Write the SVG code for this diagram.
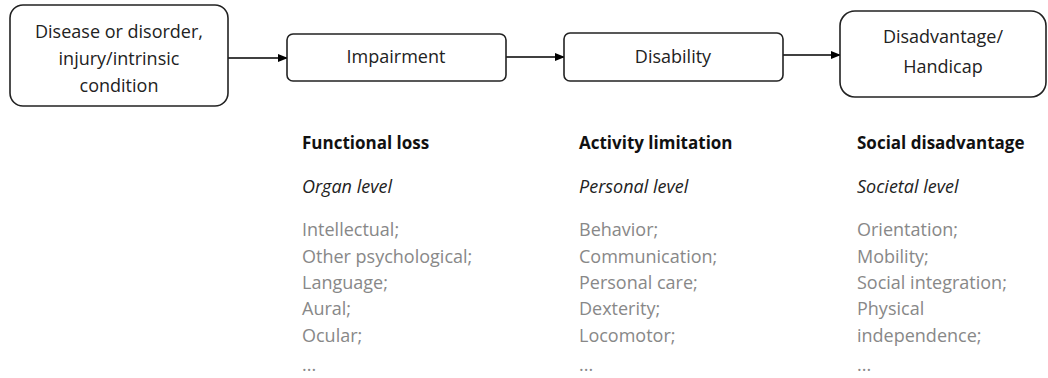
<svg xmlns="http://www.w3.org/2000/svg" width="1048" height="378" viewBox="0 0 1048 378">
<defs>
<marker id="ah" markerWidth="10" markerHeight="8" refX="9" refY="4" orient="auto" markerUnits="userSpaceOnUse">
<path d="M0,0 L10,4 L0,8 Z" fill="#000"/>
</marker>
<style>
.box{fill:#fff;stroke:#222;stroke-width:1.6}
.lbl{font-family:"Open Sans","DejaVu Sans",sans-serif;font-size:18px;fill:#222;text-anchor:middle}
.hd{font-family:"Open Sans","DejaVu Sans",sans-serif;font-size:17px;font-weight:bold;fill:#111}
.lv{font-family:"Open Sans","DejaVu Sans",sans-serif;font-size:18px;font-style:italic;fill:#222}
.it{font-family:"Open Sans","DejaVu Sans",sans-serif;font-size:18px;fill:#888}
.con{stroke:#000;stroke-width:1.4;fill:none}
</style>
</defs>
<rect width="1048" height="378" fill="#fff"/>
<g id="connectors">
<line class="con" x1="228" y1="58" x2="287" y2="58" marker-end="url(#ah)"/>
<line class="con" x1="506" y1="57" x2="564" y2="57" marker-end="url(#ah)"/>
<line class="con" x1="783" y1="55" x2="840" y2="55" marker-end="url(#ah)"/>
</g>
<g id="node-disease">
<rect class="box" x="10" y="5" width="218" height="101" rx="13"/>
<text class="lbl" x="119" y="38">Disease or disorder,</text>
<text class="lbl" x="119" y="65">injury/intrinsic</text>
<text class="lbl" x="119" y="92">condition</text>
</g>
<g id="node-impairment">
<rect class="box" x="287" y="34" width="219" height="47" rx="6"/>
<text class="lbl" x="396" y="63">Impairment</text>
</g>
<g id="node-disability">
<rect class="box" x="564" y="33" width="219" height="48" rx="6"/>
<text class="lbl" x="673" y="63">Disability</text>
</g>
<g id="node-handicap">
<rect class="box" x="840" y="11" width="206" height="86" rx="15"/>
<text class="lbl" x="943" y="43">Disadvantage/</text>
<text class="lbl" x="943" y="73">Handicap</text>
</g>
<g id="col-functional">
<text class="hd" x="302" y="149">Functional loss</text>
<text class="lv" x="302" y="193">Organ level</text>
<text class="it" x="302" y="236">Intellectual;</text>
<text class="it" x="302" y="262.5">Other psychological;</text>
<text class="it" x="302" y="289">Language;</text>
<text class="it" x="302" y="315">Aural;</text>
<text class="it" x="302" y="341.5">Ocular;</text>
<text class="it" x="302" y="371">...</text>
</g>
<g id="col-activity">
<text class="hd" x="579" y="149">Activity limitation</text>
<text class="lv" x="579" y="193">Personal level</text>
<text class="it" x="579" y="236">Behavior;</text>
<text class="it" x="579" y="262.5">Communication;</text>
<text class="it" x="579" y="289">Personal care;</text>
<text class="it" x="579" y="315">Dexterity;</text>
<text class="it" x="579" y="341.5">Locomotor;</text>
<text class="it" x="579" y="371">...</text>
</g>
<g id="col-social">
<text class="hd" x="857" y="149">Social disadvantage</text>
<text class="lv" x="857" y="193">Societal level</text>
<text class="it" x="857" y="236">Orientation;</text>
<text class="it" x="857" y="262.5">Mobility;</text>
<text class="it" x="857" y="289">Social integration;</text>
<text class="it" x="857" y="315">Physical</text>
<text class="it" x="857" y="341.5">independence;</text>
<text class="it" x="857" y="371">...</text>
</g>
</svg>
